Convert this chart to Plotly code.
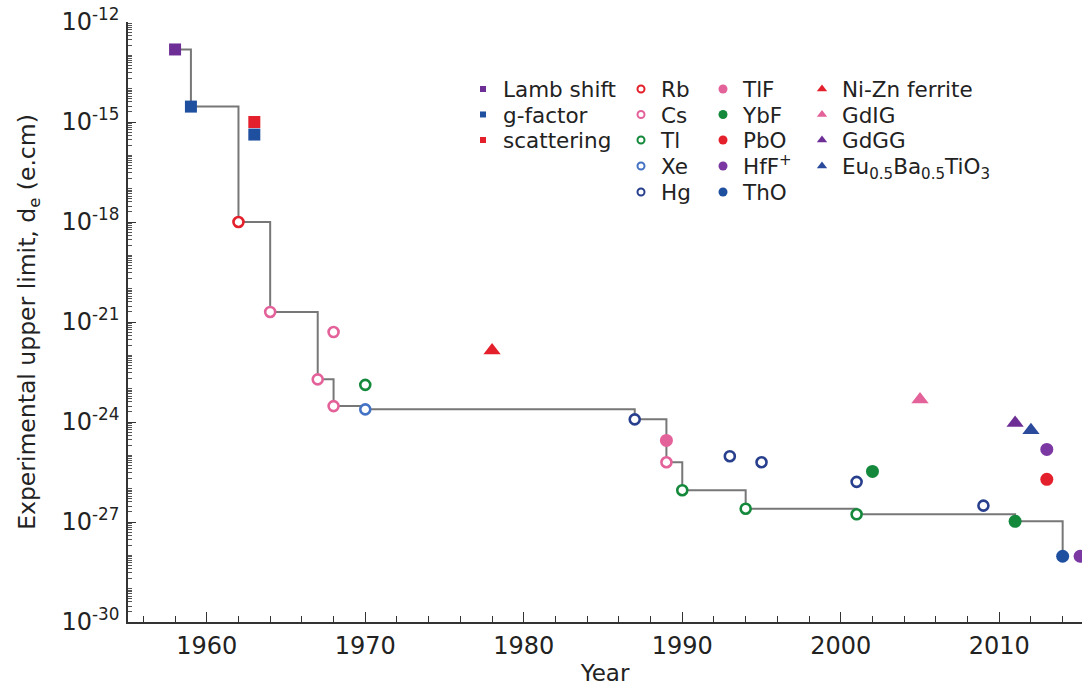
import plotly.graph_objects as go

# ---------------- data ----------------
lamb_x = [1958]
lamb_y = [1.5e-13]
gfac_x = [1959, 1963]
gfac_y = [2.9e-15, 4.2e-16]
scat_x = [1963]
scat_y = [1.0e-15]
rb_x = [1962]
rb_y = [1.0e-18]
cs_x = [1964, 1967, 1968, 1968, 1989]
cs_y = [2.0e-21, 1.9e-23, 5.0e-22, 3.0e-24, 6.2e-26]
tl_x = [1970, 1990, 1994, 2001]
tl_y = [1.3e-23, 9.0e-27, 2.5e-27, 1.7e-27]
xe_x = [1970]
xe_y = [2.4e-24]
hg_x = [1987, 1993, 1995, 2001, 2009]
hg_y = [1.2e-24, 9.4e-26, 6.2e-26, 1.6e-26, 3.1e-27]
tlf_x = [1989]
tlf_y = [2.8e-25]
ybf_x = [2002, 2011]
ybf_y = [3.3e-26, 1.05e-27]
pbo_x = [2013]
pbo_y = [1.9e-26]
hff_x = [2013, 2015.1]
hff_y = [1.5e-25, 9.4e-29]
tho_x = [2014]
tho_y = [9.4e-29]
nizn_x = [1978]
nizn_y = [1.4e-22]
gdig_x = [2005]
gdig_y = [4.7e-24]
gdgg_x = [2011]
gdgg_y = [9.4e-25]
euba_x = [2012]
euba_y = [5.7e-25]

# best-limit staircase
step_x = [1958, 1959, 1962, 1964, 1967, 1968, 1970, 1987, 1989, 1990, 1994, 2001, 2011, 2014]
step_y = [1.5e-13, 2.9e-15, 1.0e-18, 2.0e-21, 1.9e-23, 3.0e-24, 2.4e-24, 1.2e-24,
          6.2e-26, 9.0e-27, 2.5e-27, 1.7e-27, 1.05e-27, 9.4e-29]

# axis ticks
y_major_exp = [-30, -27, -24, -21, -18, -15, -12]
y_tick_text = ["10<sup>%d</sup>" % e for e in y_major_exp]

FONT = "DejaVu Sans"
TXT = "#222222"

PURPLE = "#6d2f96"
BLUE = "#1f4f9f"
RED = "#e3202b"
PINK = "#e4629a"
GREEN = "#14893b"
XEBLUE = "#4472c4"
HGBLUE = "#283f8e"

W, H = 1082, 688
ML, MR, MT, MB = 128, 0, 22, 66
PW, PH = W - ML - MR, H - MT - MB

fig = go.Figure()

fig.add_trace(go.Scatter(x=step_x, y=step_y, mode="lines", line=dict(color="#777777", width=2, shape="hv"),
                         showlegend=False, hoverinfo="skip"))

# (name, x, y, symbol, color, open?, plot size, legend size, legend column, legend row)
series = [
    ("Lamb shift", lamb_x, lamb_y, "square", PURPLE, False, 12, 6, 0, 0),
    ("g-factor", gfac_x, gfac_y, "square", BLUE, False, 12, 6, 0, 1),
    ("scattering", scat_x, scat_y, "square", RED, False, 12, 6, 0, 2),
    ("Rb", rb_x, rb_y, "circle", RED, True, 10, 7, 1, 0),
    ("Cs", cs_x, cs_y, "circle", PINK, True, 10, 7, 1, 1),
    ("Tl", tl_x, tl_y, "circle", GREEN, True, 10, 7, 1, 2),
    ("Xe", xe_x, xe_y, "circle", XEBLUE, True, 10, 7, 1, 3),
    ("Hg", hg_x, hg_y, "circle", HGBLUE, True, 10, 7, 1, 4),
    ("TlF", tlf_x, tlf_y, "circle", PINK, False, 13, 9, 2, 0),
    ("YbF", ybf_x, ybf_y, "circle", GREEN, False, 13, 9, 2, 1),
    ("PbO", pbo_x, pbo_y, "circle", RED, False, 13, 9, 2, 2),
    ("HfF<sup>+</sup>", hff_x, hff_y, "circle", "#7b38a3", False, 13, 9, 2, 3),
    ("ThO", tho_x, tho_y, "circle", BLUE, False, 13, 9, 2, 4),
    ("Ni-Zn ferrite", nizn_x, nizn_y, "triangle-up", RED, False, 15, 9, 3, 0),
    ("GdIG", gdig_x, gdig_y, "triangle-up", PINK, False, 15, 9, 3, 1),
    ("GdGG", gdgg_x, gdgg_y, "triangle-up", PURPLE, False, 15, 9, 3, 2),
    ("Eu<sub>0.5</sub>Ba<sub>0.5</sub>TiO<sub>3</sub>", euba_x, euba_y, "triangle-up", "#2b4a9c", False, 15, 9, 3, 3),
]

# legend layout (pixel positions of the text start per column, centre per row)
col_text_px = [503, 661, 743, 842]
row_center_px = [90, 115.5, 141, 167, 193]
LEG_TOP_OFFSET = 21.5
LEG_TEXT_GAP = 40

legend_common = dict(font=dict(family=FONT, size=21.5, color=TXT), bgcolor="rgba(0,0,0,0)",
                     borderwidth=0, xanchor="left", yanchor="top", itemsizing="trace",
                     tracegroupgap=0, itemclick=False, itemdoubleclick=False)
legends = {}

for i, (name, xs, ys, sym, col, is_open, size, lsize, lc, lr) in enumerate(series):
    if is_open:
        mk = dict(symbol=sym, size=size, color="white", line=dict(color=col, width=2.6))
        lmk = dict(symbol=sym, size=lsize, color="white", line=dict(color=col, width=2))
    else:
        mk = dict(symbol=sym, size=size, color=col, line=dict(width=0))
        lmk = dict(symbol=sym, size=lsize, color=col, line=dict(width=0))
    fig.add_trace(go.Scatter(x=xs, y=ys, mode="markers", marker=mk, name=name,
                             showlegend=False, cliponaxis=False))
    lid = "legend" if i == 0 else "legend%d" % (i + 1)
    lx = (col_text_px[lc] - LEG_TEXT_GAP - ML) / PW
    ly = 1 - (row_center_px[lr] - LEG_TOP_OFFSET - MT) / PH
    legends[lid] = dict(x=lx, y=ly, **legend_common)
    # legend proxy (no data drawn)
    fig.add_trace(go.Scatter(x=[None], y=[None], mode="markers", marker=lmk, name=name,
                             showlegend=True, legend=lid))

minor_y = []
for e in range(-30, -12):
    for k in range(1, 10):
        if k == 1 and e in y_major_exp:
            continue
        minor_y.append(k * 10.0 ** e)

fig.update_layout(
    width=W, height=H,
    margin=dict(l=ML, r=MR, t=MT, b=MB),
    paper_bgcolor="white", plot_bgcolor="white",
    font=dict(family=FONT, color=TXT),
    xaxis=dict(range=[1955.03, 2015.22], showgrid=False, zeroline=False,
               showline=True, linecolor="#333333", linewidth=1.5,
               tick0=1960, dtick=10, ticks="inside", ticklen=10, tickwidth=1.2, tickcolor="#333333",
               minor=dict(dtick=2, tick0=1960, ticks="inside", ticklen=6, tickwidth=1, tickcolor="#333333"),
               tickfont=dict(family=FONT, size=24, color=TXT), ticklabelstandoff=1,
               title=dict(text="Year", font=dict(family=FONT, size=23, color=TXT), standoff=6),
               automargin=False),
    yaxis=dict(type="log", range=[-30, -12], showgrid=False, zeroline=False,
               showline=True, linecolor="#333333", linewidth=1.5,
               tickmode="array", tickvals=[10.0 ** e for e in y_major_exp], ticktext=y_tick_text,
               ticks="inside", ticklen=8, tickwidth=1.2, tickcolor="#333333",
               minor=dict(tickmode="array", tickvals=minor_y, ticks="inside", ticklen=4,
                          tickwidth=1, tickcolor="#555555"),
               tickfont=dict(family=FONT, size=24, color=TXT), ticklabelstandoff=2,
               title=dict(text="Experimental upper limit, d<sub>e</sub> (e.cm)",
                          font=dict(family=FONT, size=23.5, color=TXT), standoff=19),
               automargin=False),
    **legends,
)

fig.write_html("out.html", config={"displayModeBar": False},
               post_script="document.body.style.margin='0px';")
